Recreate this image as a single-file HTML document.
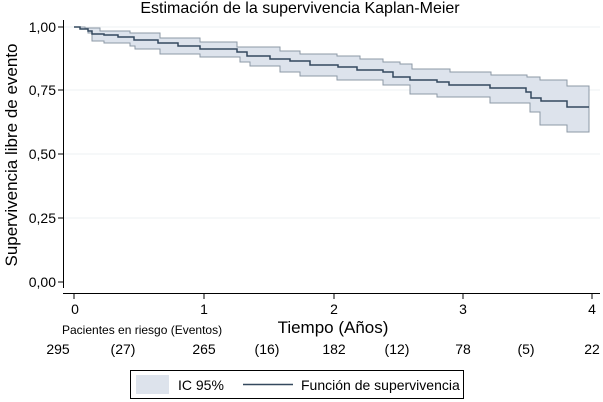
<!DOCTYPE html>
<html><head><meta charset="utf-8"><style>
body{margin:0;background:#fff;}
svg{display:block;font-family:"Liberation Sans",sans-serif;}
</style></head><body>
<svg width="603" height="402" viewBox="0 0 603 402">
<rect width="603" height="402" fill="#fff"/>
<text x="300" y="13" font-size="16" text-anchor="middle" fill="#000">Estimación de la supervivencia Kaplan-Meier</text>
<g stroke="#eef0f3" stroke-width="1">
<line x1="64" y1="27" x2="600" y2="27"/><line x1="64" y1="90" x2="600" y2="90"/><line x1="64" y1="154" x2="600" y2="154"/><line x1="64" y1="218" x2="600" y2="218"/>
</g>
<polygon fill="#dde3ec" stroke="#8c98a6" stroke-width="1" points="74,27 85,27 85,28 100,28 100,31 130,31 130,33 160,33 160,38 200,38 200,42 237,42 237,47 280,47 280,51 300,51 300,54 337,54 337,56 360,56 360,59 383,59 383,62 400,62 400,64 412,64 412,69 450,69 450,72 491,72 491,75 527,75 527,77 540,77 540,80 567,80 567,86 589,86 589,132 567,132 567,125 540,125 540,112 530,112 530,103 490,103 490,97 437,97 437,94 410,94 410,85 383,85 383,80 337,80 337,76 300,76 300,72 280,72 280,66 250,66 250,62 240,62 240,57 200,57 200,54 160,54 160,49 135,49 135,46 130,46 130,43 104,43 104,41 92,41 92,33 88,33 88,29 80,29 80,27"/>
<polyline fill="none" stroke="#34495e" stroke-width="1.5" points="74,27 80,27 80,29 88,29 88,31 92,31 92,34 104,34 104,35 118,35 118,37 134,37 134,40 158,40 158,43 178,43 178,46 200,46 200,49 237,49 237,52 247,52 247,56 270,56 270,59 290,59 290,61 310,61 310,65 338,65 338,67 357,67 357,70 383,70 383,72 393,72 393,77 410,77 410,80 437,80 437,82 449,82 449,85 490,85 490,88 526,88 526,92 531,92 531,98 541,98 541,101 567,101 567,107 589,107"/>
<g stroke="#000" stroke-width="1">
<line x1="63.5" y1="20" x2="63.5" y2="288"/>
<line x1="63" y1="293.5" x2="600" y2="293.5"/>
<line x1="58" y1="27" x2="63" y2="27"/><line x1="58" y1="90" x2="63" y2="90"/><line x1="58" y1="154" x2="63" y2="154"/><line x1="58" y1="218" x2="63" y2="218"/><line x1="58" y1="282" x2="63" y2="282"/>
<line x1="74" y1="294" x2="74" y2="299"/><line x1="204" y1="294" x2="204" y2="299"/><line x1="334" y1="294" x2="334" y2="299"/><line x1="463" y1="294" x2="463" y2="299"/><line x1="592" y1="294" x2="592" y2="299"/>
</g>
<g font-size="14" text-anchor="end" fill="#000">
<text x="56" y="32">1,00</text><text x="56" y="95">0,75</text><text x="56" y="159">0,50</text><text x="56" y="223">0,25</text><text x="56" y="287">0,00</text>
</g>
<g font-size="14" text-anchor="middle" fill="#000">
<text x="75" y="314">0</text><text x="204" y="314">1</text><text x="334" y="314">2</text><text x="463" y="314">3</text><text x="592" y="314">4</text>
<text x="58" y="354">295</text><text x="123" y="354">(27)</text><text x="204" y="354">265</text><text x="267" y="354">(16)</text><text x="334" y="354">182</text><text x="397" y="354">(12)</text><text x="463" y="354">78</text><text x="526" y="354">(5)</text><text x="592" y="354">22</text>
</g>
<text x="333" y="333" font-size="17" text-anchor="middle">Tiempo (Años)</text>
<text x="62" y="334" font-size="12">Pacientes en riesgo (Eventos)</text>
<text transform="translate(17,155) rotate(-90)" font-size="17" text-anchor="middle">Supervivencia libre de evento</text>
<rect x="130.5" y="370.5" width="333" height="28" fill="#fff" stroke="#000"/>
<rect x="136" y="375" width="33" height="19" fill="#dde3ec"/>
<text x="178" y="390" font-size="14">IC 95%</text>
<line x1="243" y1="384.5" x2="293" y2="384.5" stroke="#34495e" stroke-width="1.5"/>
<text x="301" y="390" font-size="14">Función de supervivencia</text>
</svg>
</body></html>
